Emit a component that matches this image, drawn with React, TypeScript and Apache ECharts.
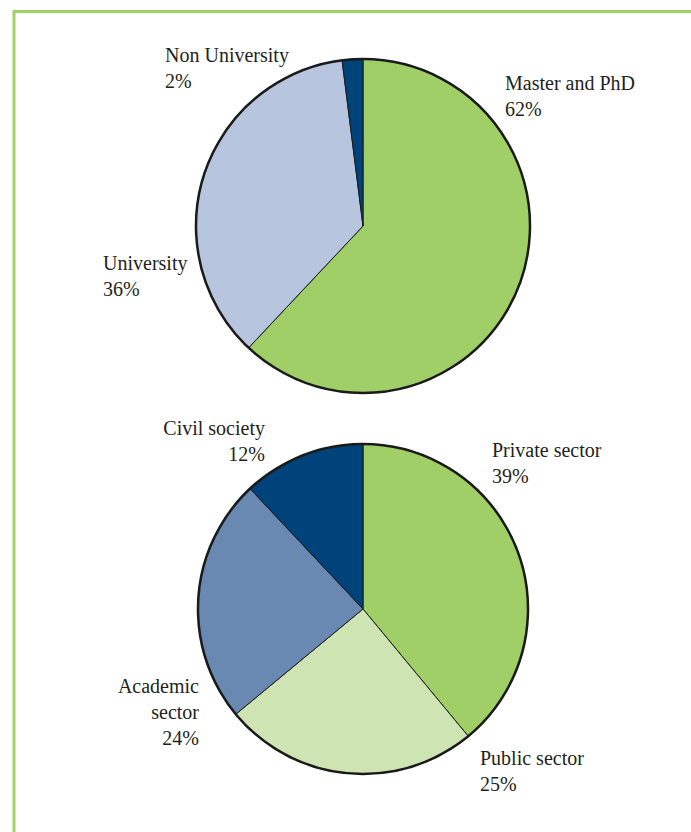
import React, { useEffect, useRef } from "react";
import * as echarts from "echarts";

// Highest degree held
const degreeNames = ["Master and PhD", "University", "Non University"];
const degreeShares = [62, 36, 2];

// Sector of employment
const sectorNames = ["Private sector", "Public sector", "Academic\nsector", "Civil society"];
const sectorShares = [39, 25, 24, 12];

const degreeColors = ["#a0ce67", "#b8c5de", "#00427a"];
const sectorColors = ["#a0ce67", "#cfe4b3", "#6988b2", "#00427a"];

// Label anchors (text box top edge, aligned side)
const degreeLabelPos = [
  { x: 505, y: 70, align: "left" },
  { x: 103, y: 250, align: "left" },
  { x: 165, y: 42, align: "left" },
];
const sectorLabelPos = [
  { x: 492, y: 437, align: "left" },
  { x: 480, y: 745, align: "left" },
  { x: 199, y: 673, align: "right" },
  { x: 265, y: 415, align: "right" },
];

const FONT = "'Liberation Serif', 'Times New Roman', serif";
const TEXT = "#231f20";

function pieSeries(
  names: string[],
  values: number[],
  colors: string[],
  pos: { x: number; y: number; align: string }[],
  center: [number, number],
  radius: number
) {
  return [
    {
      type: "pie",
      center,
      radius,
      startAngle: 90,
      clockwise: true,
      avoidLabelOverlap: false,
      silent: true,
      data: names.map((n, i) => ({
        name: n,
        value: values[i],
        itemStyle: { color: colors[i] },
      })),
      itemStyle: { borderColor: "#1a1a1a", borderWidth: 1 },
      label: {
        show: true,
        position: "outside",
        formatter: "{b}\n{c}%",
        fontFamily: FONT,
        fontSize: 20,
        lineHeight: 26,
        color: TEXT,
      },
      labelLine: { show: false },
      labelLayout: (p: any) => ({
        x: pos[p.dataIndex].x,
        y: pos[p.dataIndex].y,
        align: pos[p.dataIndex].align,
        verticalAlign: "top",
      }),
    },
    {
      // outer rim drawn heavier than the slice dividers
      type: "pie",
      center,
      radius,
      silent: true,
      label: { show: false },
      labelLine: { show: false },
      data: [{ value: 1, itemStyle: { color: "rgba(0,0,0,0)" } }],
      itemStyle: { borderColor: "#1a1a1a", borderWidth: 2.5 },
    },
  ];
}

export default function App() {
  const ref = useRef<HTMLDivElement>(null);

  useEffect(() => {
    if (!ref.current) return;
    const chart = echarts.init(ref.current, undefined, { renderer: "svg" });
    chart.setOption({
      animation: false,
      backgroundColor: "#ffffff",
      graphic: [
        {
          type: "rect",
          shape: { x: 14, y: 11.5, width: 800, height: 900 },
          style: { fill: "none", stroke: "#9fd167", lineWidth: 3 },
          silent: true,
        },
      ],
      series: [
        ...pieSeries(degreeNames, degreeShares, degreeColors, degreeLabelPos, [363, 226], 167),
        ...pieSeries(sectorNames, sectorShares, sectorColors, sectorLabelPos, [363, 609], 165),
      ],
    });
    return () => chart.dispose();
  }, []);

  return (
    <div
      ref={ref}
      style={{ position: "absolute", left: 0, top: 0, width: 691, height: 832 }}
    />
  );
}
